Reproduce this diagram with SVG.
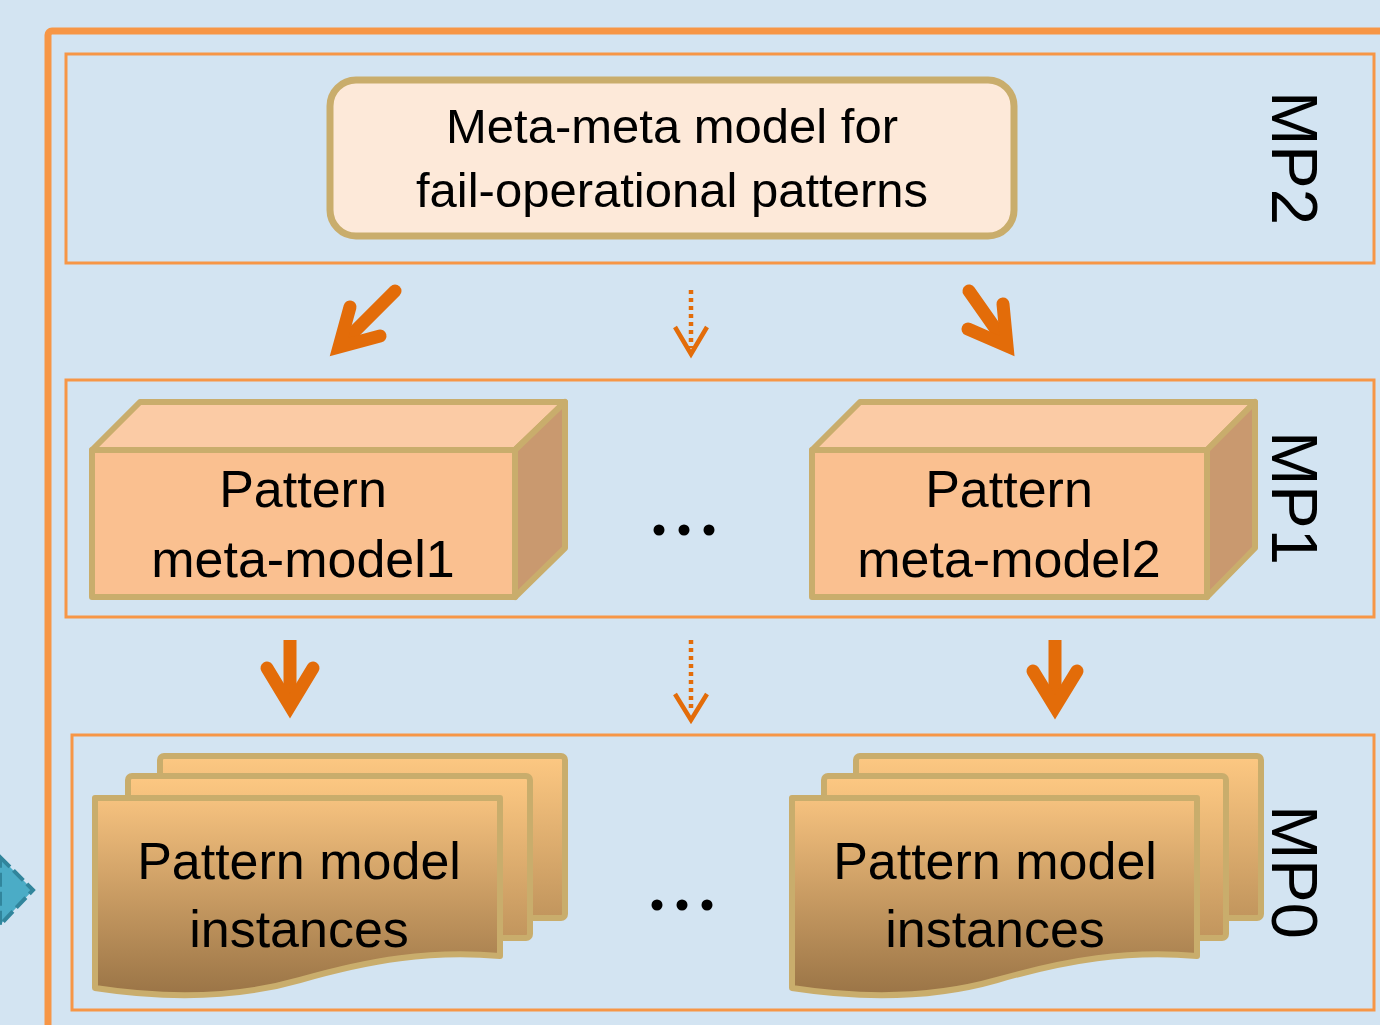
<svg xmlns="http://www.w3.org/2000/svg" width="1380" height="1025" viewBox="0 0 1380 1025">
<defs>
<style>
.txt{font-family:"Liberation Sans",Arial,sans-serif;fill:#000;text-anchor:middle}
.lbl{font-family:"Liberation Sans",Arial,sans-serif;font-size:65px;fill:#000;text-anchor:middle}
.layer{fill:none;stroke:#f79646;stroke-width:3}
.edge{stroke:#c9ad6c;stroke-width:6;stroke-linejoin:round}
.solid{fill:none;stroke:#e36c09;stroke-width:13;stroke-linecap:round;stroke-linejoin:miter;stroke-miterlimit:10}
.shaft{fill:none;stroke:#e36c09;stroke-width:13}
.dots{fill:none;stroke:#e36c09;stroke-width:4.5;stroke-dasharray:4 4}
.dhead{fill:none;stroke:#e36c09;stroke-width:4.5;stroke-linejoin:miter}
</style>
<linearGradient id="docFront" x1="0" y1="0" x2="0" y2="1">
<stop offset="0" stop-color="#f6c27f"/>
<stop offset="1" stop-color="#9a7446"/>
</linearGradient>
<linearGradient id="docBack" x1="0" y1="0" x2="0" y2="1">
<stop offset="0" stop-color="#fdc882"/>
<stop offset="1" stop-color="#c1955d"/>
</linearGradient>
</defs>
<rect x="0" y="0" width="1380" height="1025" fill="#d3e4f2"/>
<polygon points="0,857 33,890 0,925" fill="#4bacc6" stroke="#31859c" stroke-width="4" stroke-dasharray="14 5"/>
<rect x="48" y="31" width="1400" height="1100" rx="4" fill="none" stroke="#f79646" stroke-width="7"/>

<g id="layer-MP2">
<rect class="layer" x="66" y="54" width="1308" height="209"/>
<text class="lbl" transform="translate(1272,158) rotate(90)">MP2</text>
</g>
<g id="layer-MP1">
<rect class="layer" x="66" y="380" width="1308" height="237"/>
<text class="lbl" transform="translate(1272,498) rotate(90)">MP1</text>
</g>
<g id="layer-MP0">
<rect class="layer" x="72" y="735" width="1302" height="275"/>
<text class="lbl" transform="translate(1272,872) rotate(90)">MP0</text>
</g>

<g id="node-metameta">
<rect x="330" y="80" width="684" height="156" rx="26" fill="#fde9d9" stroke="#c9ad6c" stroke-width="7"/>
<text class="txt" font-size="49" x="672" y="143">Meta-meta model for</text>
<text class="txt" font-size="49" x="672" y="207">fail-operational patterns</text>
</g>

<g id="node-metamodel1">
<polygon class="edge" points="92,450 140,402 565,402 515,450" fill="#fbcba5"/>
<polygon class="edge" points="515,450 565,402 565,548 515,597" fill="#c9996f"/>
<rect class="edge" x="92" y="450" width="423" height="147" fill="#fac090"/>
<text class="txt" font-size="52" x="303" y="507">Pattern</text>
<text class="txt" font-size="52" x="303" y="577">meta-model1</text>
</g>

<g id="node-metamodel2">
<polygon class="edge" points="812,450 860,402 1255,402 1207,450" fill="#fbcba5"/>
<polygon class="edge" points="1207,450 1255,402 1255,548 1207,597" fill="#c9996f"/>
<rect class="edge" x="812" y="450" width="395" height="147" fill="#fac090"/>
<text class="txt" font-size="52" x="1009" y="507">Pattern</text>
<text class="txt" font-size="52" x="1009" y="577">meta-model2</text>
</g>

<g id="node-dots1">
<circle cx="659" cy="530" r="5.5" fill="#000"/>
<circle cx="684" cy="530" r="5.5" fill="#000"/>
<circle cx="709" cy="530" r="5.5" fill="#000"/>
</g>

<g id="node-instances1">
<rect class="edge" x="160" y="756" width="405" height="162" rx="4" fill="url(#docBack)"/>
<rect class="edge" x="128" y="776" width="402" height="162" rx="4" fill="url(#docBack)"/>
<path class="edge" d="M95,798 H500 V956 C430,950 370,960 300,980 C230,1000 160,998 95,988 Z" fill="url(#docFront)"/>
<text class="txt" font-size="52" x="299" y="879">Pattern model</text>
<text class="txt" font-size="52" x="299" y="947">instances</text>
</g>

<g id="node-dots2">
<circle cx="657" cy="905" r="5.5" fill="#000"/>
<circle cx="682" cy="905" r="5.5" fill="#000"/>
<circle cx="707" cy="905" r="5.5" fill="#000"/>
</g>

<g id="node-instances2">
<rect class="edge" x="856" y="756" width="405" height="162" rx="4" fill="url(#docBack)"/>
<rect class="edge" x="824" y="776" width="402" height="162" rx="4" fill="url(#docBack)"/>
<path class="edge" d="M792,798 H1197 V956 C1127,950 1067,960 997,980 C927,1000 857,998 792,988 Z" fill="url(#docFront)"/>
<text class="txt" font-size="52" x="995" y="879">Pattern model</text>
<text class="txt" font-size="52" x="995" y="947">instances</text>
</g>

<g id="connectors">
<line class="shaft" x1="395" y1="291" x2="346" y2="340" stroke-linecap="round"/>
<polyline class="solid" points="350,307 339,347 380,336"/>
<line class="dots" x1="691" y1="290" x2="691" y2="348"/>
<polyline class="dhead" points="675,327 691,354 707,327"/>
<line class="shaft" x1="969" y1="291" x2="1002" y2="338" stroke-linecap="round"/>
<polyline class="solid" points="1003,304 1007,346 968,329"/>
<line class="shaft" x1="290" y1="640" x2="290" y2="700"/>
<polyline class="solid" points="267,668 290,706 313,668"/>
<line class="dots" x1="691" y1="640" x2="691" y2="712"/>
<polyline class="dhead" points="675,694 691,720 707,694"/>
<line class="shaft" x1="1055" y1="640" x2="1055" y2="700"/>
<polyline class="solid" points="1033,671 1055,707 1077,671"/>
</g>
</svg>
